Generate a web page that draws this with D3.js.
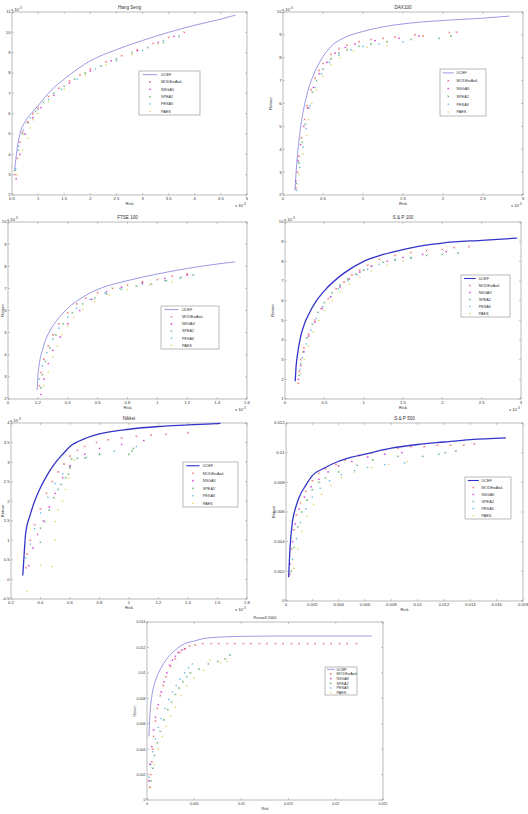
<!DOCTYPE html>
<html><head><meta charset="utf-8">
<script src="https://cdn.jsdelivr.net/npm/d3@7"></script>
<style>
body{margin:0;background:#fff}
svg{display:block}
text{font-family:"Liberation Sans",Arial,sans-serif;fill:#333}
</style>
</head><body>
<svg id="c" width="528" height="814"></svg>
<script>
const seriesNames = ["UCEF","MODEwAwL","NSGAII","SPEA2","PESAII","PAES"];

// ---------- Hang Seng (x1e-3) ----------
const hsXTicks = [0.5,1,1.5,2,2.5,3,3.5,4,4.5,5];
const hsYTicks = [2,3,4,5,6,7,8,9,10,11];
const hsUCEF = [[0.55,3.2],[0.6,4.3],[0.65,5.0],[0.75,5.6],[0.9,6.1],[1.0,6.4],[1.25,7.15],[1.5,7.7],[2.0,8.6],[2.5,9.15],[3.0,9.6],[3.5,10.0],[4.0,10.35],[4.5,10.65],[4.78,10.85]];
const hsMODE = [[0.56,3.0],[0.6,3.8],[0.65,4.6],[0.7,5.1],[0.8,5.6],[0.9,6.0],[1.0,6.3],[1.2,6.85],[1.4,7.25],[1.6,7.6],[1.8,7.9],[2.0,8.2],[2.3,8.55],[2.6,8.85],[2.9,9.15],[3.2,9.45],[3.5,9.75],[3.8,10.0]];
const hsNSGA = [[0.58,2.8],[0.65,4.0],[0.75,5.0],[0.9,5.8],[1.05,6.3],[1.3,6.9],[1.6,7.5],[2.0,8.1],[2.4,8.6],[2.9,9.1],[3.3,9.5],[3.6,9.8]];
const hsSPEA = [[0.56,3.2],[0.62,4.2],[0.7,5.0],[0.8,5.55],[0.95,6.1],[1.1,6.55],[1.3,7.0],[1.5,7.35],[1.7,7.7],[1.9,8.0],[2.2,8.35],[2.5,8.7],[2.8,9.0],[3.1,9.25],[3.4,9.5],[3.7,9.8]];
const hsPESA = [[0.57,3.3],[0.63,4.4],[0.72,5.2],[0.85,5.8],[1.0,6.2],[1.2,6.7],[1.45,7.2],[1.75,7.7],[2.1,8.2],[2.5,8.6],[3.0,9.1],[3.4,9.6]];
const hsPAES = [[0.6,3.0],[0.7,4.2],[0.8,4.8],[0.85,5.3],[0.9,5.7],[1.0,6.0],[1.2,6.6],[1.5,7.2],[1.9,7.9],[2.3,8.4],[2.8,8.9],[3.3,9.4]];

// ---------- DAX 100 (x1e-3) ----------
const dxXTicks = [0,0.5,1,1.5,2,2.5,3];
const dxYTicks = [2,3,4,5,6,7,8,9,10];
const dxUCEF = [[0.15,2.2],[0.17,3.3],[0.2,4.4],[0.25,5.6],[0.3,6.4],[0.4,7.4],[0.5,8.05],[0.6,8.5],[0.75,8.85],[1.0,9.15],[1.25,9.35],[1.5,9.48],[2.0,9.63],[2.5,9.73],[2.83,9.82]];
const dxMODE = [[0.16,2.3],[0.18,3.0],[0.2,3.7],[0.23,4.5],[0.27,5.3],[0.3,5.9],[0.35,6.6],[0.4,7.1],[0.45,7.45],[0.5,7.75],[0.6,8.15],[0.7,8.4],[0.8,8.55],[0.95,8.7],[1.1,8.8],[1.25,8.85],[1.4,8.9],[1.65,9.0],[1.75,8.95],[2.08,9.1],[2.17,9.12]];
const dxNSGA = [[0.16,2.6],[0.19,3.5],[0.22,4.2],[0.26,5.0],[0.31,5.8],[0.38,6.7],[0.45,7.3],[0.55,7.8],[0.65,8.2],[0.78,8.45],[0.9,8.6],[1.15,8.75],[1.45,8.85],[1.7,8.95]];
const dxSPEA = [[0.17,2.5],[0.2,3.4],[0.24,4.3],[0.28,5.1],[0.32,5.8],[0.37,6.5],[0.42,7.0],[0.5,7.5],[0.6,7.95],[0.7,8.2],[0.8,8.35],[0.95,8.5],[1.1,8.6],[1.3,8.7],[1.6,8.8],[1.95,8.85],[2.1,8.95]];
const dxPESA = [[0.17,2.2],[0.21,3.2],[0.25,4.1],[0.29,4.9],[0.34,5.9],[0.4,6.7],[0.48,7.3],[0.58,7.8],[0.7,8.1],[0.85,8.35],[1.0,8.5],[1.2,8.6],[1.5,8.7]];
const dxPAES = [[0.2,2.9],[0.25,3.8],[0.3,4.6],[0.32,5.3],[0.36,6.0],[0.42,6.6],[0.5,7.2],[0.6,7.7],[0.72,8.0],[0.88,8.3],[1.05,8.45],[1.3,8.55]];

// ---------- FTSE 100 (x1e-3) ----------
const ftXTicks = [0,0.2,0.4,0.6,0.8,1,1.2,1.4,1.6];
const ftYTicks = [2,3,4,5,6,7,8,9,10];
const ftUCEF = [[0.195,2.4],[0.2,3.0],[0.21,3.6],[0.23,4.2],[0.26,4.8],[0.3,5.3],[0.35,5.75],[0.4,6.1],[0.5,6.6],[0.6,6.95],[0.8,7.35],[1.0,7.65],[1.2,7.9],[1.4,8.1],[1.52,8.2]];
const ftMODE = [[0.21,2.6],[0.22,3.2],[0.24,3.8],[0.27,4.4],[0.3,4.9],[0.34,5.4],[0.4,5.9],[0.46,6.3],[0.52,6.55],[0.6,6.8],[0.7,7.0],[0.8,7.15],[0.9,7.3],[1.0,7.4],[1.1,7.55],[1.2,7.65]];
const ftNSGA = [[0.22,2.2],[0.24,2.9],[0.27,3.6],[0.3,4.2],[0.35,4.8],[0.4,5.4],[0.48,6.0],[0.56,6.5],[0.66,6.85],[0.76,7.05],[0.9,7.25],[1.05,7.45],[1.2,7.6]];
const ftSPEA = [[0.22,2.5],[0.23,3.1],[0.25,3.7],[0.28,4.3],[0.32,4.9],[0.37,5.4],[0.43,5.9],[0.5,6.3],[0.58,6.55],[0.66,6.75],[0.76,6.95],[0.86,7.1],[0.96,7.2],[1.06,7.35],[1.16,7.5],[1.24,7.6]];
const ftPESA = [[0.21,2.9],[0.23,3.5],[0.26,4.1],[0.3,4.7],[0.34,5.2],[0.4,5.7],[0.46,6.1],[0.55,6.5],[0.65,6.8],[0.75,7.0],[0.9,7.2],[1.05,7.35],[1.15,7.45]];
const ftPAES = [[0.24,2.6],[0.27,3.2],[0.3,3.9],[0.33,4.4],[0.36,4.9],[0.4,5.3],[0.44,5.7],[0.5,6.05],[0.58,6.4],[0.68,6.7],[0.8,6.95],[0.95,7.15],[1.1,7.3]];

// ---------- S & P 100 (x1e-3) ----------
const spXTicks = [0,0.5,1,1.5,2,2.5,3];
const spYTicks = [1,2,3,4,5,6,7,8,9,10];
const spUCEF = [[0.13,1.9],[0.14,2.6],[0.16,3.3],[0.2,4.2],[0.25,4.85],[0.3,5.3],[0.4,6.0],[0.5,6.5],[0.75,7.4],[1.0,8.0],[1.25,8.35],[1.5,8.6],[1.75,8.8],[2.0,8.93],[2.5,9.07],[2.95,9.18]];
const spMODE = [[0.17,1.8],[0.18,2.4],[0.2,3.0],[0.24,3.6],[0.3,4.3],[0.38,5.0],[0.46,5.6],[0.55,6.1],[0.65,6.6],[0.75,6.95],[0.85,7.3],[0.95,7.55],[1.05,7.8],[1.2,8.1],[1.4,8.3],[1.6,8.45],[1.8,8.55],[2.0,8.6],[2.15,8.7],[2.34,8.75]];
const spNSGA = [[0.17,2.0],[0.2,2.7],[0.24,3.4],[0.3,4.2],[0.38,4.9],[0.47,5.6],[0.58,6.2],[0.7,6.7],[0.82,7.1],[0.95,7.45],[1.1,7.75],[1.3,8.0],[1.5,8.2],[1.75,8.35],[2.05,8.5]];
const spSPEA = [[0.18,2.2],[0.2,2.8],[0.23,3.4],[0.28,4.1],[0.35,4.8],[0.42,5.4],[0.5,5.9],[0.6,6.4],[0.7,6.8],[0.8,7.1],[0.9,7.35],[1.0,7.55],[1.1,7.75],[1.25,7.95],[1.4,8.1],[1.6,8.2],[1.8,8.3],[2.0,8.35],[2.2,8.42]];
const spPESA = [[0.19,2.5],[0.22,3.1],[0.27,3.8],[0.33,4.5],[0.4,5.1],[0.48,5.7],[0.58,6.2],[0.68,6.6],[0.8,7.0],[0.92,7.3],[1.05,7.6],[1.2,7.85],[1.4,8.05],[1.6,8.15]];
const spPAES = [[0.2,2.3],[0.25,3.0],[0.3,3.7],[0.36,4.4],[0.43,5.0],[0.5,5.5],[0.6,6.0],[0.7,6.45],[0.82,6.85],[0.95,7.2],[1.1,7.5],[1.3,7.8],[1.5,8.0]];

// ---------- Nikkei (x1e-3) ----------
const nkXTicks = [0.2,0.4,0.6,0.8,1,1.2,1.4,1.6,1.8];
const nkYTicks = [-0.5,0,0.5,1,1.5,2,2.5,3,3.5,4];
const nkUCEF = [[0.28,0.1],[0.29,0.7],[0.3,1.2],[0.33,1.65],[0.36,2.0],[0.4,2.35],[0.45,2.7],[0.5,2.98],[0.55,3.2],[0.6,3.4],[0.7,3.6],[0.8,3.72],[1.0,3.84],[1.2,3.91],[1.4,3.95],[1.62,3.99]];
const nkMODE = [[0.3,0.3],[0.31,0.65],[0.33,1.0],[0.36,1.4],[0.4,1.8],[0.44,2.2],[0.48,2.5],[0.52,2.75],[0.56,2.95],[0.6,3.15],[0.65,3.3],[0.7,3.4],[0.78,3.5],[0.86,3.57],[0.95,3.62],[1.05,3.66],[1.15,3.69],[1.25,3.71],[1.4,3.75]];
const nkNSGA = [[0.32,0.35],[0.35,0.8],[0.38,1.15],[0.42,1.5],[0.46,1.85],[0.5,2.2],[0.55,2.6],[0.6,2.9],[0.7,3.2],[0.8,3.35],[0.95,3.45],[1.1,3.55]];
const nkSPEA = [[0.4,0.95],[0.4,1.31],[0.43,1.48],[0.46,1.78],[0.49,2.09],[0.52,2.3],[0.54,2.43],[0.57,2.6],[0.59,2.69],[0.6,2.85],[0.61,3.08],[0.65,3.1],[0.71,3.12],[0.8,3.2],[1.0,3.2],[1.02,3.29],[1.03,3.35]];
const nkPESA = [[0.3,0.55],[0.33,0.9],[0.36,1.3],[0.4,1.7],[0.45,2.1],[0.5,2.45],[0.55,2.7],[0.6,2.9],[0.7,3.1],[0.8,3.2],[0.9,3.28],[1.05,3.4]];
const nkPAES = [[0.31,-0.3],[0.4,0.36],[0.48,0.33],[0.5,1.0],[0.5,1.48],[0.52,1.78],[0.55,2.0],[0.57,2.3],[0.59,2.6],[0.6,2.9],[0.63,3.05]];

// ---------- S & P 500 ----------
const s5XTicks = [0,0.002,0.004,0.006,0.008,0.01,0.012,0.014,0.016,0.018];
const s5YTicks = [0,0.002,0.004,0.006,0.008,0.01,0.012];
const s5UCEF = [[0.0002,0.0016],[0.0003,0.0035],[0.0005,0.0054],[0.0007,0.0062],[0.001,0.0070],[0.0015,0.0078],[0.002,0.00845],[0.003,0.0090],[0.004,0.00942],[0.005,0.0097],[0.006,0.0099],[0.008,0.0103],[0.01,0.01055],[0.012,0.01072],[0.014,0.01088],[0.0167,0.0110]];
const s5MODE = [[0.0003,0.0018],[0.0004,0.0035],[0.0006,0.0048],[0.0008,0.0058],[0.0011,0.0066],[0.0015,0.0074],[0.002,0.0081],[0.0025,0.0086],[0.003,0.0089],[0.0038,0.0092],[0.0045,0.0095],[0.0055,0.0098],[0.0065,0.0100],[0.0075,0.0102],[0.0085,0.0103],[0.0095,0.0104],[0.0105,0.0104],[0.0115,0.0105],[0.0125,0.0105],[0.0135,0.0105],[0.0143,0.0106]];
const s5NSGA = [[0.0003,0.0025],[0.0005,0.004],[0.0007,0.0052],[0.001,0.0062],[0.0014,0.007],[0.0019,0.0077],[0.0025,0.0082],[0.0032,0.0087],[0.004,0.0091],[0.005,0.0094],[0.0062,0.0097],[0.0075,0.0099],[0.0088,0.01]];
const s5SPEA = [[0.0004,0.002],[0.0006,0.0036],[0.0009,0.005],[0.0012,0.006],[0.0016,0.0068],[0.002,0.0075],[0.0025,0.008],[0.003,0.0083],[0.004,0.0087],[0.0054,0.00915],[0.0066,0.0095],[0.0085,0.00975],[0.0104,0.00975],[0.0116,0.0099],[0.0121,0.0100],[0.0129,0.0101]];
const s5PESA = [[0.0005,0.0028],[0.0008,0.0042],[0.0011,0.0053],[0.0015,0.0062],[0.002,0.007],[0.0026,0.0076],[0.0033,0.0081],[0.0042,0.0085],[0.0052,0.0088],[0.0062,0.009],[0.0075,0.0092],[0.009,0.0093]];
const s5PAES = [[0.0006,0.0022],[0.0009,0.0035],[0.0012,0.0047],[0.0016,0.0057],[0.0021,0.0065],[0.0027,0.0072],[0.0034,0.0078],[0.0042,0.0083],[0.0052,0.0087],[0.0065,0.009],[0.0078,0.0092],[0.0092,0.0094]];

// ---------- Russell 2000 ----------
const ruXTicks = [0,0.005,0.01,0.015,0.02,0.025];
const ruYTicks = [0,0.002,0.004,0.006,0.008,0.01,0.012,0.014];
const ruUCEF = [[0.0002,0.005],[0.0003,0.0066],[0.0005,0.0081],[0.0007,0.0089],[0.001,0.0096],[0.0015,0.0104],[0.002,0.011],[0.003,0.0118],[0.004,0.0123],[0.005,0.0125],[0.006,0.0127],[0.008,0.01282],[0.01,0.01287],[0.015,0.0129],[0.0238,0.0129]];
const ruMODE = [[0.0003,0.001],[0.0004,0.002],[0.0005,0.003],[0.0006,0.004],[0.0007,0.005],[0.0009,0.0062],[0.0011,0.0072],[0.0014,0.0082],[0.0017,0.009],[0.002,0.0097],[0.0025,0.0105],[0.003,0.0111],[0.0035,0.0116],[0.004,0.0119],[0.0045,0.0121],[0.0051,0.0122],[0.0059,0.0123],[0.0068,0.0123],[0.0076,0.0123],[0.0085,0.0123],[0.0093,0.0123],[0.0102,0.0123],[0.011,0.0123],[0.0119,0.0123],[0.0127,0.0123],[0.0136,0.0123],[0.0144,0.0123],[0.0153,0.0123],[0.0161,0.0123],[0.017,0.0123],[0.0178,0.0123],[0.0187,0.0123],[0.0195,0.0123],[0.0204,0.0123],[0.0212,0.0123],[0.0222,0.0123]];
const ruNSGA = [[0.0002,0.0015],[0.0003,0.0028],[0.0005,0.0042],[0.0007,0.0055],[0.0009,0.0065],[0.0012,0.0075],[0.0015,0.0085],[0.0018,0.0093],[0.0021,0.0100],[0.0024,0.0106],[0.0027,0.011],[0.003,0.0113],[0.0033,0.0116],[0.0037,0.0118],[0.004,0.0119]];
const ruSPEA = [[0.0004,0.0015],[0.0006,0.0025],[0.0008,0.0035],[0.0011,0.0045],[0.0014,0.0054],[0.0018,0.0063],[0.0022,0.0071],[0.0026,0.0077],[0.003,0.0083],[0.0034,0.0088],[0.0038,0.0093],[0.0042,0.0097],[0.0046,0.01],[0.0055,0.0103],[0.0065,0.0107],[0.0075,0.0109],[0.0083,0.0111],[0.0088,0.0114]];
const ruPESA = [[0.0002,0.0018],[0.0004,0.0028],[0.0006,0.0038],[0.0009,0.0048],[0.0012,0.0057],[0.0015,0.0064],[0.0019,0.0072],[0.0023,0.0079],[0.0027,0.0085],[0.0031,0.009],[0.0035,0.0095],[0.004,0.01],[0.0044,0.0104],[0.0048,0.0107]];
const ruPAES = [[0.0003,0.001],[0.0008,0.0028],[0.0012,0.004],[0.0016,0.005],[0.002,0.0058],[0.0025,0.0066],[0.003,0.0073],[0.0036,0.0082],[0.0042,0.009],[0.005,0.0096],[0.006,0.0102],[0.0067,0.011],[0.0078,0.0108],[0.0085,0.0109]];

// ---------- layout ----------
const colors = ["#6f6fd8","#e02a22","#d23cd2","#1f8c2a","#3aa6e0","#d8cc3a"];
const panels = [
  {title:"Hang Seng", d:[hsUCEF,hsMODE,hsNSGA,hsSPEA,hsPESA,hsPAES], xt:hsXTicks, yt:hsYTicks, xd:[0.5,5], yd:[2,11], b:[12,247,12,195], lg:[139,71,61,44], ex:true, ey:true, bold:false, yl:false},
  {title:"DAX100", d:[dxUCEF,dxMODE,dxNSGA,dxSPEA,dxPESA,dxPAES], xt:dxXTicks, yt:dxYTicks, xd:[0,3], yd:[2,10], b:[283,523,12,195], lg:[440,69,46,47], ex:true, ey:true, bold:false, yl:true},
  {title:"FTSE 100", d:[ftUCEF,ftMODE,ftNSGA,ftSPEA,ftPESA,ftPAES], xt:ftXTicks, yt:ftYTicks, xd:[0,1.6], yd:[2,10], b:[8,247,222,399], lg:[161,306,58,43], ex:true, ey:true, bold:false, yl:true},
  {title:"S & P 100", d:[spUCEF,spMODE,spNSGA,spSPEA,spPESA,spPAES], xt:spXTicks, yt:spYTicks, xd:[0,3], yd:[1,10], b:[285,521,222,399], lg:[461,275,49,42], ex:true, ey:true, bold:true, yl:true},
  {title:"Nikkei", d:[nkUCEF,nkMODE,nkNSGA,nkSPEA,nkPESA,nkPAES], xt:nkXTicks, yt:nkYTicks, xd:[0.2,1.8], yd:[-0.5,4], b:[11,247,423,599], lg:[183,462,55,45], ex:true, ey:true, bold:true, yl:true},
  {title:"S & P 500", d:[s5UCEF,s5MODE,s5NSGA,s5SPEA,s5PESA,s5PAES], xt:s5XTicks, yt:s5YTicks, xd:[0,0.018], yd:[0,0.012], b:[286,523,423,601], lg:[465,477,46,42], ex:false, ey:false, bold:true, yl:true},
  {title:"Russell 2000", d:[ruUCEF,ruMODE,ruNSGA,ruSPEA,ruPESA,ruPAES], xt:ruXTicks, yt:ruYTicks, xd:[0,0.025], yd:[0,0.014], b:[147,383,622,800], lg:[325,667,32,28], ex:false, ey:false, bold:false, yl:true}
];

const svg = d3.select("#c");
const fmt = v => String(+v.toFixed(6));

function marker(g, k, x, y, col){
  const s = 0.8;
  let p;
  if (k===1 || k===3) p = `M${x-s},${y-s}L${x+s},${y+s}M${x-s},${y+s}L${x+s},${y-s}`;
  else if (k===2) p = `M${x-s},${y}L${x+s},${y}M${x},${y-s}L${x},${y+s}M${x-s*0.7},${y-s*0.7}L${x+s*0.7},${y+s*0.7}M${x-s*0.7},${y+s*0.7}L${x+s*0.7},${y-s*0.7}`;
  else p = `M${x-s},${y}L${x+s},${y}M${x},${y-s}L${x},${y+s}`;
  g.append("path").attr("d",p).attr("stroke",col).attr("stroke-width",0.55).attr("fill","none");
}

panels.forEach(P => {
  const [l,r,t,b] = P.b;
  const x = d3.scaleLinear().domain(P.xd).range([l,r]);
  const y = d3.scaleLinear().domain(P.yd).range([b,t]);
  const g = svg.append("g");
  const fs = P.title==="Russell 2000" ? 3.6 : 4.2;

  g.append("rect").attr("x",l).attr("y",t).attr("width",r-l).attr("height",b-t)
   .attr("fill","#fff").attr("stroke","#777").attr("stroke-width",0.5);

  const tl = 2;
  P.xt.forEach(v => {
    const px = x(v);
    g.append("line").attr("x1",px).attr("x2",px).attr("y1",b).attr("y2",b-tl).attr("stroke","#777").attr("stroke-width",0.4);
    g.append("line").attr("x1",px).attr("x2",px).attr("y1",t).attr("y2",t+tl).attr("stroke","#777").attr("stroke-width",0.4);
    g.append("text").attr("x",px).attr("y",b+5).attr("text-anchor","middle").attr("font-size",fs).text(fmt(v));
  });
  P.yt.forEach(v => {
    const py = y(v);
    g.append("line").attr("x1",l).attr("x2",l+tl).attr("y1",py).attr("y2",py).attr("stroke","#777").attr("stroke-width",0.4);
    g.append("line").attr("x1",r).attr("x2",r-tl).attr("y1",py).attr("y2",py).attr("stroke","#777").attr("stroke-width",0.4);
    g.append("text").attr("x",l-1.5).attr("y",py+1.4).attr("text-anchor","end").attr("font-size",fs).text(fmt(v));
  });

  if (P.ey) {
    const tx = g.append("text").attr("x",l-1).attr("y",t-1.5).attr("font-size",fs);
    tx.append("tspan").text("x 10");
    tx.append("tspan").attr("dy",-1.5).attr("font-size",fs*0.75).text("-3");
  }
  if (P.ex) {
    const tx = g.append("text").attr("x",r-12).attr("y",b+11.5).attr("font-size",fs);
    tx.append("tspan").text("x 10");
    tx.append("tspan").attr("dy",-1.5).attr("font-size",fs*0.75).text("-3");
  }

  g.append("text").attr("x",(l+r)/2).attr("y",t-3).attr("text-anchor","middle").attr("font-size",fs+0.4).text(P.title);
  g.append("text").attr("x",(l+r)/2).attr("y",b+10).attr("text-anchor","middle").attr("font-size",fs).text("Risk");
  if (P.yl) {
    const cx = Math.max(l-11, 3.5), cy=(t+b)/2;
    g.append("text").attr("transform",`translate(${cx},${cy}) rotate(-90)`).attr("text-anchor","middle").attr("font-size",fs).text("Return");
  }

  const pg = g.append("g");
  for (let k=5;k>=1;k--) {
    P.d[k].forEach(p => marker(pg, k, x(p[0]), y(p[1]), colors[k]));
  }
  g.append("path").datum(P.d[0])
    .attr("d", d3.line().x(p=>x(p[0])).y(p=>y(p[1])).curve(d3.curveMonotoneX))
    .attr("fill","none").attr("stroke", P.bold ? "#3434c8" : colors[0]).attr("stroke-width", P.bold ? 1.3 : 0.7);

  const [lx,ly,lw,lh] = P.lg;
  const lg = g.append("g");
  lg.append("rect").attr("x",lx).attr("y",ly).attr("width",lw).attr("height",lh)
    .attr("fill","#fff").attr("stroke","#777").attr("stroke-width",0.5);
  const lfs = Math.min(3.8, lh/7.5);
  seriesNames.forEach((nm,i) => {
    const ry = ly + lh*(i+0.5)/6;
    const x0 = lx + lw*0.06, x1 = lx + lw*0.3;
    if (i===0) lg.append("line").attr("x1",x0).attr("x2",x1).attr("y1",ry).attr("y2",ry)
      .attr("stroke", P.bold ? "#3434c8" : colors[0]).attr("stroke-width", P.bold ? 1.1 : 0.7);
    else marker(lg, i, (x0+x1)/2, ry, colors[i]);
    lg.append("text").attr("x",lx+lw*0.36).attr("y",ry+lfs*0.35).attr("font-size",lfs).text(nm);
  });
});
</script>
</body></html>
